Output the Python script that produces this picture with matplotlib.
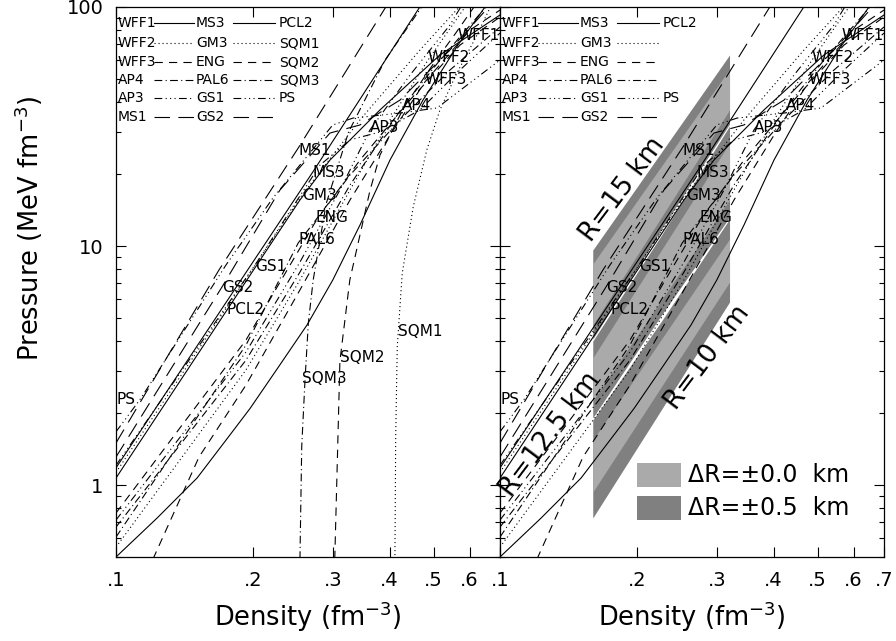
import matplotlib
matplotlib.use("Agg")
import matplotlib.pyplot as plt
from matplotlib.patches import Rectangle

plt.rcParams['font.family'] = ['DejaVu Sans']

# ---------------- EOS data: density n (fm^-3), pressure P (MeV fm^-3) ----------------
wff1_n = [0.100, 0.123, 0.1508, 0.175, 0.1972, 0.2273, 0.2632, 0.300, 0.3443, 0.4009, 0.4738, 0.5656, 0.6653]
wff1_p = [0.50, 0.726, 1.07, 1.55, 2.09, 3.10, 4.67, 7.21, 12.24, 22.9, 40.8, 69.3, 107]
wff2_n = [0.100, 0.1932, 0.254, 0.3273, 0.4009, 0.486, 0.6012]
wff2_p = [0.55, 3.03, 7.21, 17.15, 33.7, 60.0, 107]
wff3_n = [0.1206, 0.1523, 0.1932, 0.254, 0.3273, 0.4009, 0.4786, 0.6012, 0.700]
wff3_p = [0.49, 1.31, 2.62, 6.55, 15.58, 29.1, 48.6, 80.1, 97.1]
ap4_n = [0.100, 0.1932, 0.254, 0.3273, 0.426, 0.5164, 0.6722]
ap4_p = [0.667, 3.33, 7.78, 18.0, 37.8, 60.0, 107]
ap3_n = [0.100, 0.1932, 0.254, 0.3111, 0.3622, 0.4436, 0.5433, 0.586]
ap3_p = [0.714, 3.60, 8.57, 17.15, 30.6, 51.9, 84.1, 107]
ms1_n = [0.100, 0.1685, 0.2518, 0.395]
ms1_p = [1.50, 7.94, 25.7, 102]
ms3_n = [0.100, 0.2711, 0.4786]
ms3_p = [1.18, 20.4, 108]
gm3_n = [0.100, 0.2565, 0.3443, 0.4667, 0.6012]
gm3_p = [1.13, 16.3, 33.7, 66.1, 112]
eng_n = [0.100, 0.1932, 0.2746, 0.3443, 0.4436, 0.5715, 0.700]
eng_p = [0.764, 4.04, 12.6, 22.9, 40.8, 69.3, 90.8]
pal6_n = [0.100, 0.1932, 0.2518, 0.3273, 0.4217, 0.5433, 0.700]
pal6_p = [0.606, 3.85, 10.3, 19.8, 33.7, 54.5, 82.5]
gs1_n = [0.100, 0.2023, 0.2811, 0.3273, 0.381, 0.4667, 0.5715, 0.700]
gs1_p = [1.21, 8.33, 21.8, 27.8, 30.0, 37.1, 54.5, 77.8]
gs2_n = [0.100, 0.1711, 0.2295, 0.2958, 0.3443, 0.4217, 0.5433, 0.6823]
gs2_p = [1.31, 6.74, 17.15, 29.7, 32.1, 40.8, 66.1, 107]
pcl2_n = [0.100, 0.1755, 0.254, 0.2958, 0.381, 0.5164, 0.700]
pcl2_p = [1.07, 5.40, 15.58, 22.9, 37.1, 63.0, 92.6]
sqm1_n = [0.411, 0.4126, 0.4159, 0.4265, 0.451, 0.483, 0.516, 0.56, 0.62, 0.67]
sqm1_p = [0.49, 1.59, 3.79, 7.69, 14.6, 25.2, 37.0, 52.0, 75.0, 102]
sqm2_n = [0.303, 0.307, 0.311, 0.327, 0.362, 0.381, 0.43, 0.50, 0.56, 0.618]
sqm2_p = [0.49, 1.27, 3.30, 7.20, 17.0, 24.0, 38.0, 58.0, 78.0, 102]
sqm3_n = [0.254, 0.2563, 0.2606, 0.265, 0.2716, 0.290, 0.325, 0.391, 0.474]
sqm3_p = [0.49, 1.45, 2.75, 4.75, 7.20, 15.0, 30.0, 60.0, 102]
ps_n = [0.100, 0.1135, 0.1746, 0.2216, 0.300, 0.3323, 0.4217, 0.5085, 0.700]
ps_p = [1.67, 2.31, 8.33, 15.9, 32.1, 34.3, 36.0, 37.8, 60.0]

# curve label anchor points (density, pressure)
label_names = ["WFF1", "WFF2", "WFF3", "AP4", "AP3", "MS1", "MS3", "GM3", "ENG",
               "PAL6", "GS1", "GS2", "PCL2", "SQM1", "SQM2", "SQM3", "PS"]
label_n = [0.5656, 0.486, 0.4786, 0.426, 0.3622, 0.2518, 0.2711, 0.2565, 0.2746,
           0.2518, 0.2023, 0.1711, 0.1755, 0.4175, 0.3111, 0.2565, 0.1005]
label_p = [76.3, 61.2, 49.5, 38.9, 31.4, 25.2, 20.4, 16.3, 13.1,
           10.6, 8.2, 6.7, 5.4, 4.37, 3.43, 2.78, 2.27]

# radius bands (right panel): pressures at densities band_n
band_n = [0.16, 0.2263, 0.32]
band_R = ["15", "12.5", "10"]
# each entry: (dark_lo, light_lo, light_hi, dark_hi) along band_n
band_dark_lo = {"15": [4.08, 11.73, 32.4], "12.5": [1.91, 5.12, 13.2], "10": [0.728, 2.06, 5.83]}
band_light_lo = {"15": [4.67, 13.16, 37.1], "12.5": [2.25, 5.92, 15.58], "10": [0.935, 2.57, 7.07]}
band_light_hi = {"15": [8.41, 21.5, 55.0], "12.5": [3.40, 9.58, 27.0], "10": [1.54, 4.06, 10.7]}
band_dark_hi = {"15": [9.62, 24.6, 63.0], "12.5": [4.00, 11.06, 31.8], "10": [1.87, 4.83, 12.97]}
band_label_pos = {"15": (0.1865, 17.2), "12.5": (0.1288, 1.62), "10": (0.2867, 3.40)}

x_ticks = [0.1, 0.2, 0.3, 0.4, 0.5, 0.6, 0.7]
x_ticklabels = [".1", ".2", ".3", ".4", ".5", ".6", ".7"]
y_ticks = [1, 10, 100]
y_ticklabels = ["1", "10", "100"]
y_minor = [0.5, 0.6, 0.7, 0.8, 0.9, 2, 3, 4, 5, 6, 7, 8, 9, 20, 30, 40, 50, 60, 70, 80, 90]

styles = {
    "solid": "-",
    "dotted": (0, (1.0, 2.6)),
    "dashed": (0, (7.5, 5.5)),
    "dashdot": (0, (7.0, 3.0, 1.0, 3.0)),
    "dashdot3": (0, (7.0, 3.0, 1.0, 3.0, 1.0, 3.0, 1.0, 3.0)),
    "longdash": (0, (14.0, 7.5)),
}

eos = {
    "WFF1": (wff1_n, wff1_p, "solid"),
    "WFF2": (wff2_n, wff2_p, "dotted"),
    "WFF3": (wff3_n, wff3_p, "dashed"),
    "AP4": (ap4_n, ap4_p, "dashdot"),
    "AP3": (ap3_n, ap3_p, "dashdot3"),
    "MS1": (ms1_n, ms1_p, "longdash"),
    "MS3": (ms3_n, ms3_p, "solid"),
    "GM3": (gm3_n, gm3_p, "dotted"),
    "ENG": (eng_n, eng_p, "dashed"),
    "PAL6": (pal6_n, pal6_p, "dashdot"),
    "GS1": (gs1_n, gs1_p, "dashdot3"),
    "GS2": (gs2_n, gs2_p, "longdash"),
    "PCL2": (pcl2_n, pcl2_p, "solid"),
    "SQM1": (sqm1_n, sqm1_p, "dotted"),
    "SQM2": (sqm2_n, sqm2_p, "dashed"),
    "SQM3": (sqm3_n, sqm3_p, "dashdot"),
    "PS": (ps_n, ps_p, "dashdot3"),
}

legend_rows = [("WFF1", "MS3", "PCL2"), ("WFF2", "GM3", "SQM1"), ("WFF3", "ENG", "SQM2"),
               ("AP4", "PAL6", "SQM3"), ("AP3", "GS1", "PS"), ("MS1", "GS2", "")]

W, H = 896, 641
fig = plt.figure(figsize=(W / 100, H / 100), dpi=100)
ax1 = fig.add_axes([116 / W, 1 - 557 / H, 384 / W, 550 / H])
ax2 = fig.add_axes([500 / W, 1 - 557 / H, 384 / W, 550 / H])

LW = 0.8


def setup(ax, left):
    ax.set_xscale("log")
    ax.set_yscale("log")
    ax.set_xlim(0.1, 0.7)
    ax.set_ylim(0.5, 100)
    ax.set_xticks(x_ticks)
    labs = list(x_ticklabels)
    if left:
        labs[-1] = ""
    ax.set_xticklabels(labs, fontsize=14)
    ax.set_xticks([], minor=True)
    ax.set_yticks(y_ticks)
    ax.set_yticks(y_minor, minor=True)
    if left:
        ax.set_yticklabels(y_ticklabels, fontsize=14)
        ax.set_ylabel("Pressure (MeV fm$^{-3}$)", fontsize=18.5)
        ax.yaxis.set_label_coords(-0.184, 0.598)
    else:
        ax.set_yticklabels([])
    ax.set_yticklabels([], minor=True)
    ax.tick_params(which="both", direction="in", top=True, right=True, width=0.8)
    ax.tick_params(which="major", length=7)
    ax.tick_params(axis="x", which="major", pad=10)
    ax.tick_params(axis="y", which="major", pad=9)
    ax.tick_params(which="minor", length=3.5)
    ax.set_xlabel("Density (fm$^{-3}$)", fontsize=18.5, labelpad=7)
    for s in ax.spines.values():
        s.set_linewidth(0.9)


def draw_curves(ax, with_sqm):
    for name, (n, p, st) in eos.items():
        if not with_sqm and name.startswith("SQM"):
            continue
        ax.plot(n, p, color="black", lw=LW, linestyle=styles[st], zorder=3)
    for name, xn, yp in zip(label_names, label_n, label_p):
        if not with_sqm and name.startswith("SQM"):
            continue
        ax.text(xn, yp, name, fontsize=11, ha="left", va="center", zorder=4)


def draw_legend(ax, with_sqm):
    ys = [0.971, 0.9345, 0.900, 0.867, 0.8345, 0.800]
    for y, (a, b, c) in zip(ys, legend_rows):
        ax.text(0.005, y, a, transform=ax.transAxes, fontsize=10, ha="left", va="center")
        ax.plot([0.099, 0.203], [y, y], transform=ax.transAxes, color="black", lw=LW,
                linestyle=styles[eos[a][2]])
        ax.text(0.208, y, b, transform=ax.transAxes, fontsize=10, ha="left", va="center")
        ax.plot([0.305, 0.414], [y, y], transform=ax.transAxes, color="black", lw=LW,
                linestyle=styles[eos[b][2]])
        if c and (with_sqm or not c.startswith("SQM")):
            ax.text(0.4245, y, c, transform=ax.transAxes, fontsize=10, ha="left", va="center")


setup(ax1, True)
setup(ax2, False)
draw_curves(ax1, True)
draw_curves(ax2, False)
draw_legend(ax1, True)
draw_legend(ax2, False)

DARK = "#808080"
LIGHT = "#aaaaaa"
for R in band_R:
    ax2.fill_between(band_n, band_dark_lo[R], band_dark_hi[R], color=DARK, lw=0, zorder=1)
for R in band_R:
    ax2.fill_between(band_n, band_light_lo[R], band_light_hi[R], color=LIGHT, lw=0, zorder=1.5)
for R in band_R:
    xn, yp = band_label_pos[R]
    ax2.text(xn, yp, "R=" + R + " km", fontsize=19, rotation=53, rotation_mode="anchor",
             ha="center", va="center", zorder=4)

ax2.add_patch(Rectangle((0.357, 0.1273), 0.1146, 0.0437, transform=ax2.transAxes,
                        color=LIGHT, lw=0))
ax2.add_patch(Rectangle((0.357, 0.0673), 0.1146, 0.0437, transform=ax2.transAxes,
                        color=DARK, lw=0))
ax2.text(0.49, 0.149, "\u0394R=\u00b10.0  km", transform=ax2.transAxes, fontsize=17,
         ha="left", va="center")
ax2.text(0.49, 0.089, "\u0394R=\u00b10.5  km", transform=ax2.transAxes, fontsize=17,
         ha="left", va="center")

fig.savefig("out.png", dpi=100)
